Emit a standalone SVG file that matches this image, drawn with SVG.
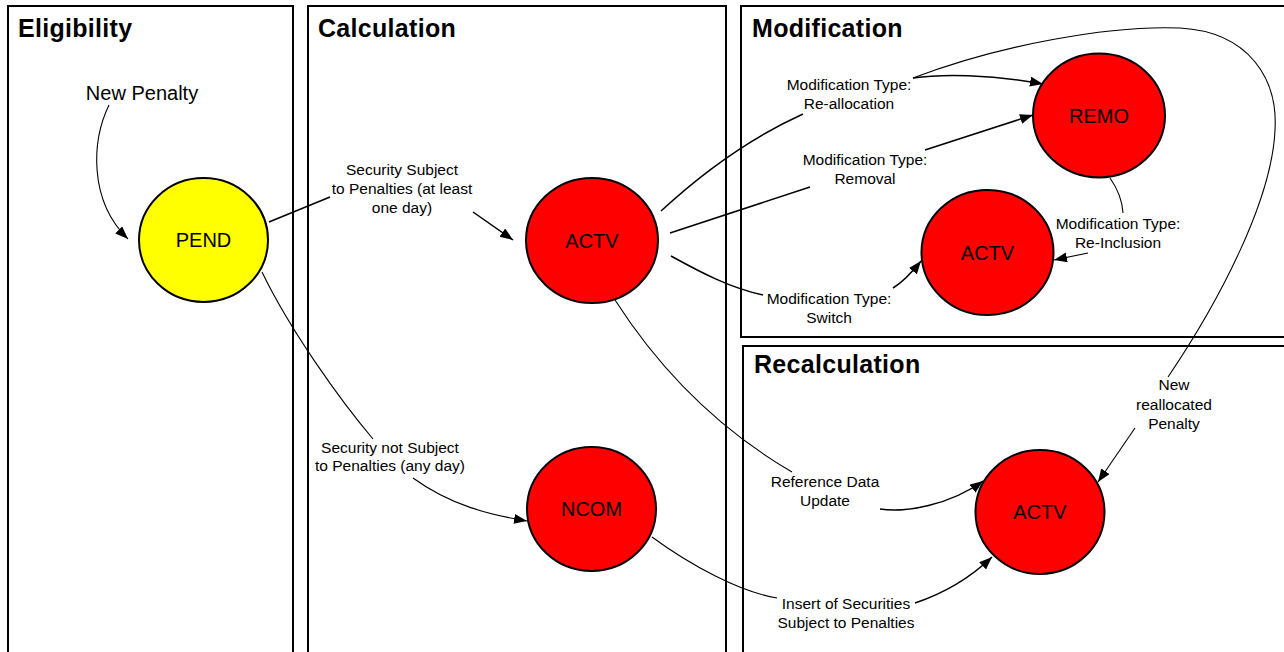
<svg xmlns="http://www.w3.org/2000/svg" width="1284" height="652" viewBox="0 0 1284 652">
<style>
.panel{fill:#fff;stroke:#000;stroke-width:2}
.title{font-family:"Liberation Sans",Arial,sans-serif;font-weight:bold;font-size:25px;letter-spacing:0.3px;fill:#000}
.node{stroke:#000;stroke-width:2}
.ntext{font-family:"Liberation Sans",Arial,sans-serif;font-size:20px;fill:#000;text-anchor:middle}
.lbl{font-family:"Liberation Sans",Arial,sans-serif;font-size:15.5px;fill:#000;text-anchor:middle}
.c{fill:none;stroke:#000;stroke-width:1.5}
.t{fill:none;stroke:#000;stroke-width:1.1}
</style>
<defs>
<marker id="ah" markerUnits="userSpaceOnUse" markerWidth="14" markerHeight="12" refX="13" refY="5" orient="auto">
<path d="M0,0 L13,5 L0,10 z" fill="#000"/>
</marker>
</defs>
<rect width="1284" height="652" fill="#fff"/>
<g id="panels">
<g id="panel-eligibility"><rect class="panel" x="8" y="6" width="285" height="700"/><text class="title" x="18" y="37">Eligibility</text></g>
<g id="panel-calculation"><rect class="panel" x="308" y="6" width="418" height="700"/><text class="title" x="318" y="37">Calculation</text></g>
<g id="panel-modification"><rect class="panel" x="741" y="6" width="600" height="331"/><text class="title" x="752" y="37">Modification</text></g>
<g id="panel-recalculation"><rect class="panel" x="743" y="346" width="600" height="400"/><text class="title" x="754" y="373">Recalculation</text></g>
</g>
<g id="connectors">
<path class="t" d="M109,105 C92,140 88,200 128,239" marker-end="url(#ah)"/>
<path class="c" d="M269,222 L330,197"/>
<path class="c" d="M473,212 L513,240" marker-end="url(#ah)"/>
<path class="t" d="M262,272 C290,330 340,400 373,439"/>
<path class="t" d="M413,478 C450,505 490,515 527,521" marker-end="url(#ah)"/>
<path class="c" d="M661,211 C700,175 750,138 803,114"/>
<path class="c" d="M913,78 C940,74 990,74 1043,84" marker-end="url(#ah)"/>
<path class="t" d="M913,78 C1000,45 1110,25 1180,28 C1250,32 1278,80 1275,130 C1272,200 1220,300 1168,377"/>
<path class="t" d="M1135,428 L1098,482" marker-end="url(#ah)"/>
<path class="c" d="M670,233 L810,187"/>
<path class="c" d="M925,150 L1033,115" marker-end="url(#ah)"/>
<path class="c" d="M671,256 C700,272 730,288 763,295"/>
<path class="c" d="M893,288 Q906,280 921,261" marker-end="url(#ah)"/>
<path class="t" d="M1110,178 Q1122,195 1123,213"/>
<path class="t" d="M1088,253 L1054,260" marker-end="url(#ah)"/>
<path class="t" d="M615,300 C660,370 720,430 792,472"/>
<path class="c" d="M880,509 C905,513 950,505 983,481" marker-end="url(#ah)"/>
<path class="t" d="M652,537 C690,565 740,592 777,598"/>
<path class="c" d="M915,603 C945,593 970,578 992,557" marker-end="url(#ah)"/>
</g>
<g id="labels">
<text class="lbl" x="142" y="100" style="font-size:20px">New Penalty</text>
<text class="lbl" x="402" y="175">Security Subject</text>
<text class="lbl" x="402" y="194">to Penalties (at least</text>
<text class="lbl" x="402" y="213">one day)</text>
<text class="lbl" x="390" y="453">Security not Subject</text>
<text class="lbl" x="390" y="471">to Penalties (any day)</text>
<text class="lbl" x="849" y="90">Modification Type:</text>
<text class="lbl" x="849" y="109">Re-allocation</text>
<text class="lbl" x="865" y="165">Modification Type:</text>
<text class="lbl" x="865" y="184">Removal</text>
<text class="lbl" x="829" y="304">Modification Type:</text>
<text class="lbl" x="829" y="323">Switch</text>
<text class="lbl" x="1118" y="229">Modification Type:</text>
<text class="lbl" x="1118" y="248">Re-Inclusion</text>
<text class="lbl" x="1174" y="390">New</text>
<text class="lbl" x="1174" y="410">reallocated</text>
<text class="lbl" x="1174" y="429">Penalty</text>
<text class="lbl" x="825" y="487">Reference Data</text>
<text class="lbl" x="825" y="506">Update</text>
<text class="lbl" x="846" y="609">Insert of Securities</text>
<text class="lbl" x="846" y="628">Subject to Penalties</text>
</g>
<g id="node-pend"><ellipse class="node" cx="203.5" cy="240" rx="64.5" ry="62" fill="#ffff00"/><text class="ntext" x="203.5" y="247">PEND</text></g>
<g id="node-actv-calc"><ellipse class="node" cx="592" cy="240.5" rx="66" ry="62.5" fill="#ff0000"/><text class="ntext" x="592" y="247.5">ACTV</text></g>
<g id="node-ncom"><ellipse class="node" cx="591.5" cy="509" rx="64.5" ry="62" fill="#ff0000"/><text class="ntext" x="591.5" y="516">NCOM</text></g>
<g id="node-remo"><ellipse class="node" cx="1099" cy="115.5" rx="66" ry="62" fill="#ff0000"/><text class="ntext" x="1099" y="122.5">REMO</text></g>
<g id="node-actv-mod"><ellipse class="node" cx="987.5" cy="252.5" rx="66" ry="62.5" fill="#ff0000"/><text class="ntext" x="987.5" y="259.5">ACTV</text></g>
<g id="node-actv-recalc"><ellipse class="node" cx="1040" cy="512" rx="64.5" ry="62" fill="#ff0000"/><text class="ntext" x="1040" y="519">ACTV</text></g>
</svg>
